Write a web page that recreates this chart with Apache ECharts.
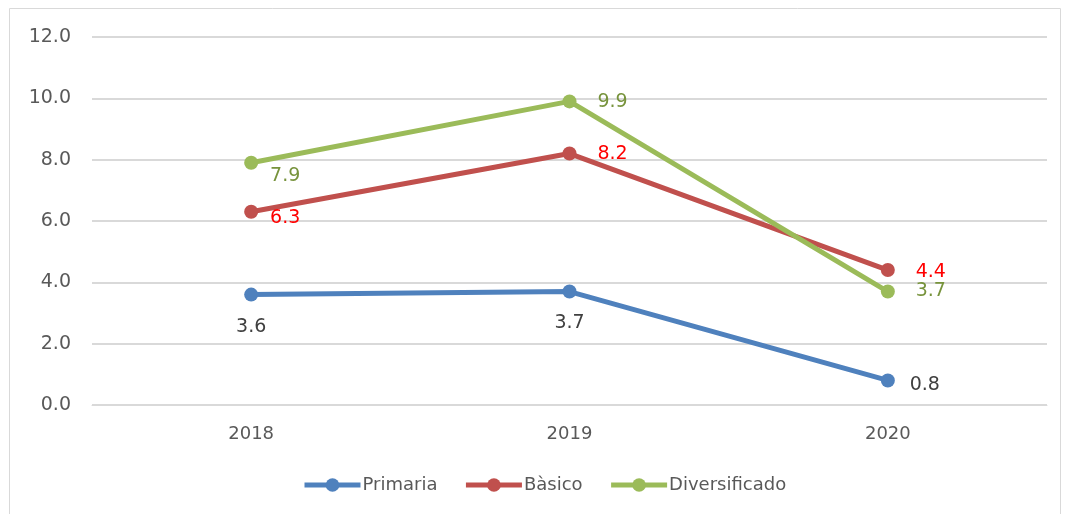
<!DOCTYPE html>
<html>
<head>
<meta charset="utf-8">
<script src="https://cdn.jsdelivr.net/npm/echarts@6/dist/echarts.min.js"></script>
<style>
  html, body { margin: 0; padding: 0; background: #fff; }
  #chart { width: 1065px; height: 514px; }
</style>
</head>
<body>
<div id="chart"></div>
<script>
var years = ['2018', '2019', '2020'];
var primaria = [3.6, 3.7, 0.8];
var basico = [6.3, 8.2, 4.4];
var diversificado = [7.9, 9.9, 3.7];

// label offsets from the marker centre, one per point
var primariaOffsets = [[0, 32], [0, 32], [37, 5]];
var basicoOffsets = [[34, 6], [43, 1], [43, 2]];
var diversificadoOffsets = [[34, 13], [43, 1], [43, 0]];

var font = '"DejaVu Sans", sans-serif';

function points(values, offsets, color) {
    var out = [];
    for (var i = 0; i < values.length; i++) {
        out.push({
            value: values[i],
            label: {
                show: true,
                position: 'inside',
                offset: offsets[i],
                color: color,
                fontSize: 19,
                fontFamily: font,
                formatter: function (p) { return p.value.toFixed(1); }
            }
        });
    }
    return out;
}

function line(name, values, offsets, color, labelColor) {
    return {
        name: name,
        type: 'line',
        data: points(values, offsets, labelColor),
        symbol: 'circle',
        symbolSize: 14,
        lineStyle: { width: 5, color: color },
        itemStyle: { color: color },
        emphasis: { disabled: true }
    };
}

var myChart = echarts.init(document.getElementById('chart'));

var option = {
    animation: false,
    graphic: [{
        type: 'rect',
        shape: { x: 9.5, y: 8.5, width: 1051, height: 520 },
        style: { fill: 'none', stroke: '#d9d9d9', lineWidth: 1 }
    }],
    grid: {
        left: 92,
        right: 18,
        top: 37,
        bottom: 109
    },
    legend: {
        bottom: 15,
        left: 297,
        itemWidth: 56,
        itemHeight: 17,
        itemGap: 26,
        lineStyle: { width: 5 },
        textStyle: { color: '#595959', fontSize: 18, fontFamily: font, padding: [0, 0, 0, -3] },
        data: ['Primaria', 'Bàsico', 'Diversificado']
    },
    xAxis: {
        type: 'category',
        data: years,
        axisLine: { lineStyle: { color: '#d9d9d9', width: 1 } },
        axisTick: { show: false },
        axisLabel: { color: '#595959', fontSize: 18, fontFamily: font, margin: 20 }
    },
    yAxis: {
        type: 'value',
        min: 0,
        max: 12,
        interval: 2,
        axisLine: { show: false },
        axisTick: { show: false },
        splitLine: { lineStyle: { color: '#d9d9d9', width: 2 } },
        axisLabel: {
            color: '#595959', fontSize: 19, fontFamily: font, margin: 21,
            formatter: function (v) { return v.toFixed(1); }
        }
    },
    series: [
        line('Primaria', primaria, primariaOffsets, '#4f81bd', '#404040'),
        line('Bàsico', basico, basicoOffsets, '#c0504d', '#ff0000'),
        line('Diversificado', diversificado, diversificadoOffsets, '#9bbb59', '#77933c')
    ]
};

myChart.setOption(option);
</script>
</body>
</html>
